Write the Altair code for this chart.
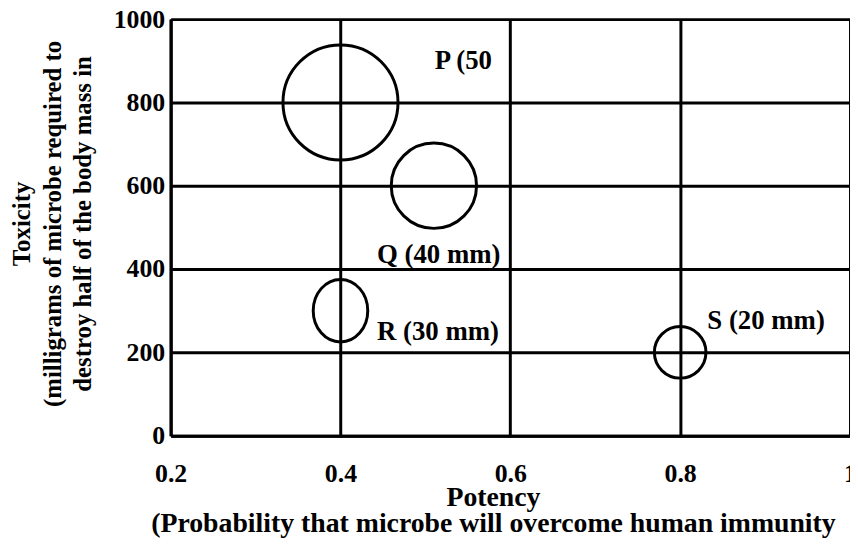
import altair as alt
import pandas as pd

# ---- data ----
microbes = ["P", "Q", "R", "S"]
potency = [0.4, 0.51, 0.4, 0.8]
toxicity = [800, 600, 300, 200]
diameter_mm = [50, 40, 30, 20]

label_text = ["P (50", "Q (40 mm)", "R (30 mm)", "S (20 mm)"]
label_x = [0.511, 0.443, 0.443, 0.832]
label_y = [881, 414, 229, 257]

x_ticks = [0.2, 0.4, 0.6, 0.8, 1.0]
y_ticks = [0, 200, 400, 600, 800, 1000]

x_title = ["Potency", "(Probability that microbe will overcome human immunity"]
y_title = ["Toxicity", "(milligrams of microbe required to", "destroy half of the body mass in"]

FONT = "Liberation Serif"

bubbles = pd.DataFrame({"microbe": microbes, "potency": potency,
                        "toxicity": toxicity, "mm": diameter_mm})
labels = pd.DataFrame({"text": label_text, "lx": label_x, "ly": label_y})

x_scale = alt.Scale(domain=[0.2, 1.0], nice=False, zero=False)
y_scale = alt.Scale(domain=[0, 1000], nice=False, zero=False)

x_axis = alt.Axis(values=x_ticks, format=".1~f", title=x_title, grid=True,
                  gridColor="black", gridWidth=3, gridOpacity=1,
                  domainColor="black", domainWidth=3, ticks=False,
                  labelPadding=25, labelFont=FONT, labelFontSize=26,
                  labelFontWeight="bold", labelColor="black",
                  labelFlush=False, labelOverlap=False,
                  titleFont=FONT, titleFontSize=28, titleFontWeight="bold",
                  titleColor="black", titleX=325, titleY=70,
                  titleBaseline="alphabetic", titleAlign="center",
                  titleLineHeight=27)

y_axis = alt.Axis(values=y_ticks, format="d", title=y_title, grid=True,
                  gridColor="black", gridWidth=3, gridOpacity=1,
                  domainColor="black", domainWidth=3, ticks=False,
                  labelPadding=6, labelFont=FONT, labelFontSize=26,
                  labelFontWeight="bold", labelColor="black",
                  labelFlush=False, labelOverlap=False,
                  titleFont=FONT, titleFontSize=25, titleFontWeight="bold",
                  titleColor="black", titleX=-142, titleY=206,
                  titleBaseline="alphabetic", titleAlign="center",
                  titleAngle=270, titleLineHeight=30.5)

ellipse = "M -0.873 0 A 0.873 1 0 1 0 0.873 0 A 0.873 1 0 1 0 -0.873 0 Z"

circles = alt.Chart(bubbles).mark_point(
    filled=False, stroke="black", strokeWidth=3, opacity=1
).encode(
    x=alt.X("potency:Q", scale=x_scale, axis=x_axis),
    y=alt.Y("toxicity:Q", scale=y_scale, axis=y_axis),
    size=alt.Size("mm:Q", scale=alt.Scale(domain=[20, 30, 40, 50],
                                          range=[2704, 3969, 7396, 13456]),
                  legend=None),
    shape=alt.condition("datum.microbe == 'R'", alt.value(ellipse), alt.value("circle")),
)

texts = alt.Chart(labels).mark_text(
    align="left", baseline="alphabetic", font=FONT, fontSize=27,
    fontWeight="bold", color="black"
).encode(
    x=alt.X("lx:Q", scale=x_scale),
    y=alt.Y("ly:Q", scale=y_scale),
    text="text:N",
)

chart = alt.layer(circles, texts).properties(
    width=685, height=420,
    autosize=alt.AutoSizeParams(type="none"),
    padding={"left": 164, "top": 9, "right": 0, "bottom": 103},
).configure_view(stroke=None).configure(background="white")

chart.save("out.html", embed_options={"renderer": "svg", "actions": False})
